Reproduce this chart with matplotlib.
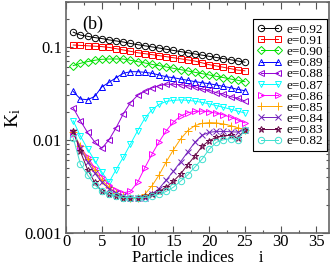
import numpy as np
import matplotlib
matplotlib.use("Agg")
import matplotlib.pyplot as plt
from matplotlib.ticker import MultipleLocator, LogLocator, NullFormatter, FixedLocator, FixedFormatter

plt.rcParams['font.family'] = ['Liberation Serif', 'DejaVu Serif']
plt.rcParams['mathtext.fontset'] = 'custom'
plt.rcParams['mathtext.rm'] = 'Liberation Serif'
plt.rcParams['mathtext.it'] = 'Liberation Serif'

# particle index
idx = np.arange(1, 26)

labels = ['e=0.92', 'e=0.91', 'e=0.90', 'e=0.89', 'e=0.88', 'e=0.87',
          'e=0.86', 'e=0.85', 'e=0.84', 'e=0.83', 'e=0.82']

k_092 = [.143, .133, .129, .125, .122, .118, .115, .112, .108, .105, .102, .0993, .0965,
         .0937, .091, .0884, .0859, .0834, .081, .0787, .0765, .0743, .0722, .0701, .068]
k_091 = [.104, .103, .102, .101, .100, .098, .095, .092, .089, .086, .084, .082, .080,
         .078, .076, .074, .072, .070, .067, .064, .062, .060, .058, .056, .055]
k_090 = [.0625, .0662, .069, .0713, .0731, .0736, .0736, .0736, .0713, .069, .0668, .0645, .0625,
         .0604, .0585, .0566, .0548, .053, .0513, .0496, .048, .0465, .0449, .0435, .042]
k_089 = [.033, .0274, .0269, .0292, .0369, .0413, .0464, .0517, .0538, .0538, .053, .0517, .0496,
         .0475, .0464, .0449, .0435, .0421, .041, .040, .0387, .0374, .0362, .0348, .0336]
k_088 = [.022, .016, .012, .0095, .0081, .0100, .0135, .019, .025, .030, .033, .036, .038,
         .0395, .0395, .039, .038, .037, .035, .034, .032, .031, .029, .028, .026]
k_087 = [.016, .011, .0080, .0060, .0045, .0035, .0048, .0065, .009, .0125, .017, .021, .024,
         .0258, .0265, .0268, .0265, .026, .0252, .0243, .0233, .0223, .0213, .0203, .0194]
k_086 = [.0115, .0085, .0065, .0050, .0040, .0033, .0029, .0027, .0028, .0035, .0050, .0070, .0095,
         .0125, .0155, .0180, .0195, .0202, .0203, .0200, .0193, .0185, .0175, .0163, .0152]
k_085 = [.012, .0085, .0062, .0047, .0037, .0031, .0027, .0025, .0024, .0024, .0026, .0032, .0042,
         .0058, .0078, .0102, .0125, .0142, .0150, .0153, .0152, .0148, .0142, .0135, .0128]
k_084 = [.012, .0082, .0058, .0044, .0035, .0030, .0027, .0025, .0024, .0024, .0024, .0026, .0030,
         .0037, .0046, .0058, .0074, .0094, .0112, .0120, .0123, .0123, .0122, .0121, .0128]
k_083 = [.0125, .0075, .0048, .0035, .0028, .0026, .0025, .0024, .0024, .0024, .0025, .0026, .0028,
         .0031, .0036, .0043, .0054, .0067, .0085, .0098, .0106, .0110, .0112, .0105, .0128]
k_082 = [.0105, .0055, .0042, .0033, .0028, .0026, .0025, .0024, .0024, .0024, .0024, .0025, .0026,
         .0028, .0031, .0036, .0042, .0051, .0062, .0079, .0094, .0100, .0103, .0100, .0128]

series = [k_092, k_091, k_090, k_089, k_088, k_087, k_086, k_085, k_084, k_083, k_082]

# grace-like colours / symbols
colors = ['black', 'red', '#00e000', '#0000ff', '#9400d3', '#00ffff', '#ff00ff',
          '#ffa500', '#7221bc', '#670748', '#40e0d0']
markers = ['o', 's', 'D', '^', '<', 'v', '>', '+', 'x', '*', 'o']
msizes = [4.6, 4.3, 3.6, 4.8, 4.8, 4.8, 4.8, 6, 4, 5, 4.6]

fig = plt.figure(figsize=(3.32, 2.66), dpi=100)
ax = fig.add_axes([0.199, 0.124, 0.793, 0.868])

for k, c, m, s, lab in zip(series, colors, markers, msizes, labels):
    ax.plot(idx, k, color=c, marker=m, ms=s, mfc='none', mec=c, mew=0.7,
            lw=0.7, label=lab)

ax.set_yscale('log')
ax.set_xlim(0, 36.8)
ax.set_ylim(0.001, 0.3)

ax.xaxis.set_major_locator(MultipleLocator(5))
ax.xaxis.set_minor_locator(MultipleLocator(2.5))
ax.yaxis.set_major_locator(FixedLocator([0.001, 0.01, 0.1]))
ax.yaxis.set_major_formatter(FixedFormatter(['0.001', '0.01', '0.1']))
ax.yaxis.set_minor_locator(LogLocator(base=10, subs=np.arange(2, 10)))
ax.yaxis.set_minor_formatter(NullFormatter())

ax.tick_params(which='both', direction='in', top=True, right=True,
               labelsize=12, pad=1, color='#555555')
ax.tick_params(axis='y', pad=3)
ax.tick_params(which='major', length=5, width=0.8)
ax.tick_params(which='minor', length=2.5, width=0.8)
for sp in ax.spines.values():
    sp.set_color('#666666')
    sp.set_linewidth(1.2)

ax.set_xlabel('Particle indices      i', fontsize=12, labelpad=0)
ax.set_ylabel(r'K$_{\rm i}$', fontsize=14, labelpad=1)
ax.text(0.06, 0.885, '(b)', transform=ax.transAxes, fontsize=13)

leg = ax.legend(loc='upper right', bbox_to_anchor=(0.99, 0.925), fontsize=9.5,
                numpoints=2, handlelength=1.9, handletextpad=0.3,
                labelspacing=-0.08, borderpad=0.3, borderaxespad=0,
                fancybox=False, framealpha=1, edgecolor='black')
leg.get_frame().set_linewidth(0.8)

fig.savefig('out.png', dpi=100)
